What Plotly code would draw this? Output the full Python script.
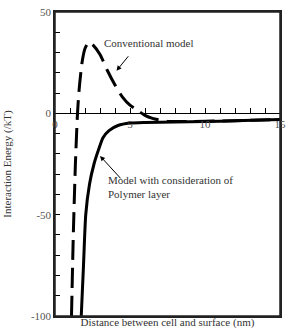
import plotly.graph_objects as go

# Conventional model (dashed)
conv_x = [1.1, 1.22, 1.36, 1.5, 1.6, 1.8, 2.0, 2.25, 2.5, 3.0, 3.5, 4.0, 4.5, 5.0, 5.5, 6.0, 6.5, 7.5, 9.0, 11.0, 13.0, 15.0]
conv_y = [-100, -60, -25, 0, 11, 25, 32, 35, 34, 29, 21, 14, 8, 4, 1.5, -1, -2.5, -4, -4, -3.8, -3.4, -3]

# Model with polymer layer (solid)
poly_x = [1.75, 1.9, 2.05, 2.3, 2.6, 2.9, 3.2, 3.6, 4.2, 5.0, 6.0, 8.0, 10.0, 12.0, 15.0]
poly_y = [-100, -75, -50, -35, -25, -18, -12, -8.5, -6, -4.8, -4.5, -4.3, -4, -3.7, -3]

x_ticks = [0, 5, 10, 15]
y_ticks = [50, 0, -50, -100]

FONT = "Liberation Serif, Times New Roman, serif"
TICKFONT = dict(family=FONT, size=11, color="#555")

fig = go.Figure()
fig.add_trace(go.Scatter(x=conv_x, y=conv_y, mode="lines",
                         line=dict(color="black", width=3, dash="20px,8px", shape="spline", smoothing=0.6),
                         showlegend=False))
fig.add_trace(go.Scatter(x=poly_x, y=poly_y, mode="lines",
                         line=dict(color="black", width=3, shape="spline", smoothing=0.6),
                         showlegend=False))
# invisible trace to activate xaxis2 (axis drawn along y = 0)
fig.add_trace(go.Scatter(x=[0], y=[0], xaxis="x2", mode="markers", marker=dict(opacity=0),
                         showlegend=False, hoverinfo="skip"))

fig.update_layout(
    width=292, height=334,
    margin=dict(l=53, r=6, t=6, b=18),
    paper_bgcolor="white", plot_bgcolor="white",
    font=dict(family=FONT, size=11, color="#333"),
    xaxis=dict(range=[0, 15], showline=True, mirror=True, linecolor="#222", linewidth=1.5,
               showgrid=False, zeroline=False, showticklabels=False, ticks="",
               title=dict(text="Distance between cell and surface (nm)", standoff=2,
                          font=dict(size=11, color="#333"))),
    xaxis2=dict(range=[0, 15], overlaying="x", anchor="free", position=100 / 150, side="bottom",
                showline=True, linecolor="black", linewidth=1.2, showgrid=False, zeroline=False,
                tickmode="array", tickvals=list(range(0, 16)),
                ticktext=[str(v) if v in x_ticks else "" for v in range(0, 16)],
                ticks="inside", ticklen=5, tickcolor="black", tickfont=TICKFONT),
    yaxis=dict(range=[-100, 50], showline=True, mirror=True, linecolor="#222", linewidth=1.5,
               showgrid=False, zeroline=False,
               tickmode="array", tickvals=list(range(-100, 51, 10)),
               ticktext=[str(v) if v in y_ticks else "" for v in range(-100, 51, 10)],
               ticks="inside", ticklen=5, tickcolor="black", tickfont=TICKFONT,
               title=dict(text="Interaction Energy (/kT)", standoff=17,
                          font=dict(size=11, color="#333"))),
)

# plot frame
fig.add_shape(type="rect", xref="paper", yref="paper", x0=0, x1=1, y0=0, y1=1,
              line=dict(color="#222", width=1.5), fillcolor="rgba(0,0,0,0)", layer="above")

# arrows and labels
fig.add_annotation(x=4.1, y=21, xref="x", yref="y", ax=13, ay=-16, text="", showarrow=True,
                   arrowhead=2, arrowsize=1, arrowwidth=1, arrowcolor="black")
fig.add_annotation(x=3.0, y=-21, xref="x", yref="y", ax=22, ay=24, text="", showarrow=True,
                   arrowhead=2, arrowsize=1, arrowwidth=1, arrowcolor="black")
fig.add_annotation(x=3.1, y=34.8, xref="x", yref="y", text="Conventional model", showarrow=False,
                   xanchor="left", font=dict(size=11, color="#333"))
fig.add_annotation(x=3.4, y=-36.5, xref="x", yref="y",
                   text="Model with consideration of<br>Polymer layer",
                   showarrow=False, xanchor="left", align="left", font=dict(size=11, color="#333"))

fig.write_html("out.html")
